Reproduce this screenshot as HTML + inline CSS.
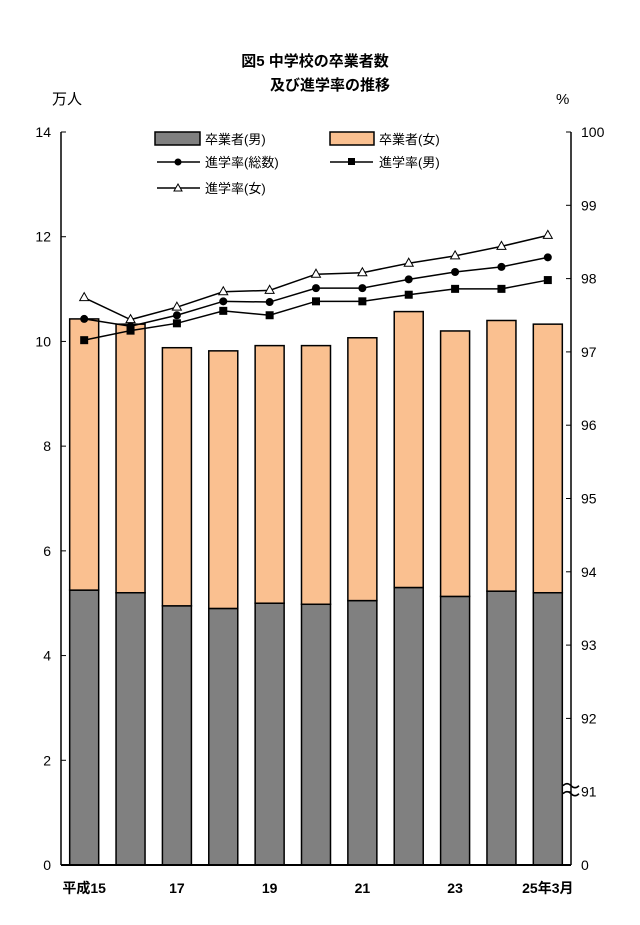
<!DOCTYPE html>
<html><head><meta charset="utf-8"><style>
body{margin:0;background:#fff;}
svg text{font-family:"Liberation Sans","Noto Sans CJK JP",sans-serif;fill:#000;}
</style></head><body>
<svg id="chart" width="640" height="920" viewBox="0 0 640 920">
<text x="315" y="66" font-size="15" font-weight="bold" text-anchor="middle">図5  中学校の卒業者数</text>
<text x="330" y="90" font-size="15" font-weight="bold" text-anchor="middle">及び進学率の推移</text>
<text x="52" y="104" font-size="15">万人</text>
<text x="556" y="104" font-size="15">%</text>
<g id="grid"></g><g id="bars"></g><g id="lines"></g><g id="axes"></g>
<g>
<rect x="155" y="132" width="45" height="13" fill="#808080" stroke="#000" stroke-width="1.5"/>
<text x="205" y="144" font-size="13">卒業者(男)</text>
<rect x="330" y="132" width="44" height="13" fill="#fac090" stroke="#000" stroke-width="1.5"/>
<text x="379" y="144" font-size="13">卒業者(女)</text>
<line x1="157" y1="162" x2="200" y2="162" stroke="#000" stroke-width="1.5"/><circle cx="178" cy="162" r="3.5" fill="#000"/>
<text x="205" y="167" font-size="13">進学率(総数)</text>
<line x1="330" y1="162" x2="373" y2="162" stroke="#000" stroke-width="1.5"/><rect x="348" y="158" width="7" height="7" fill="#000"/>
<text x="379" y="167" font-size="13">進学率(男)</text>
<line x1="157" y1="188" x2="200" y2="188" stroke="#000" stroke-width="1.5"/><path d="M178,184 L182,191 L174,191 Z" fill="#fff" stroke="#000"/>
<text x="205" y="193" font-size="13">進学率(女)</text>
</g>
</svg>
<script>
const categories=["平成15","16","17","18","19","20","21","22","23","24","25年3月"];
const maleGrads=[5.25,5.2,4.95,4.9,5.0,4.98,5.05,5.3,5.13,5.23,5.2];
const femaleGrads=[5.18,5.13,4.93,4.92,4.92,4.94,5.02,5.27,5.07,5.17,5.13];
const rateTotal=[97.45,97.35,97.50,97.69,97.68,97.87,97.87,97.99,98.09,98.16,98.29];
const rateMale=[97.16,97.29,97.39,97.56,97.50,97.69,97.69,97.78,97.86,97.86,97.98];
const rateFemale=[97.74,97.44,97.61,97.82,97.84,98.06,98.08,98.21,98.31,98.44,98.59];
const leftTicks=[0,2,4,6,8,10,12,14];
const rightTicks=[91,92,93,94,95,96,97,98,99,100];
const xLabels=["平成15","17","19","21","23","25年3月"];

const NS="http://www.w3.org/2000/svg";
const X0=61,X1=571,Y0=865,Ytop=132;
const band=(X1-X0)/categories.length;
const xC=i=>X0+band*(i+0.5);
const yL=v=>Y0-(v/14)*(Y0-Ytop);
const yR=v=>Ytop+(100-v)*73.3;
function mk(t,a,p){const e=document.createElementNS(NS,t);for(const k in a)e.setAttribute(k,a[k]);p.appendChild(e);return e;}
const gb=document.getElementById('bars'),gl=document.getElementById('lines'),ga=document.getElementById('axes');
categories.forEach((c,i)=>{
 const m=maleGrads[i],f=femaleGrads[i];
 let r=mk('rect',{x:xC(i)-14.5,y:yL(m),width:29,height:yL(0)-yL(m),fill:'#808080',stroke:'#000','stroke-width':1.5},gb);
 
 
 let r2=mk('rect',{x:xC(i)-14.5,y:yL(m+f),width:29,height:yL(m)-yL(m+f),fill:'#fac090',stroke:'#000','stroke-width':1.5},gb);
 
 
});
function line(arr,name,marker){
 const p=mk('polyline',{points:arr.map((v,i)=>xC(i)+','+yR(v)).join(' '),fill:'none',stroke:'#000','stroke-width':1.5},gl);
 
 
 arr.forEach((v,i)=>{
  const x=xC(i),y=yR(v);let e;
  if(marker==='c')e=mk('circle',{cx:x,cy:y,r:4,fill:'#000'},gl);
  else if(marker==='s')e=mk('rect',{x:x-4,y:y-4,width:8,height:8,fill:'#000'},gl);
  else e=mk('path',{d:`M${x},${y-5} L${x+4.5},${y+3} L${x-4.5},${y+3} Z`,fill:'#fff',stroke:'#000'},gl);
  
  
 });
}
line(rateFemale,'rate-female','t');line(rateTotal,'rate-total','c');line(rateMale,'rate-male','s');
mk('line',{x1:X0,y1:Ytop,x2:X0,y2:Y0,stroke:'#000','stroke-width':1.5},ga);
mk('line',{x1:X1,y1:Ytop,x2:X1,y2:Y0,stroke:'#000','stroke-width':1.5},ga);
mk('line',{x1:X0,y1:Y0,x2:X1,y2:Y0,stroke:'#000','stroke-width':2},ga);
leftTicks.forEach(v=>{
 mk('line',{x1:X0,y1:yL(v),x2:X0+5,y2:yL(v),stroke:'#000'},ga);
 const t=mk('text',{x:X0-10,y:yL(v)+5,'font-size':14,'text-anchor':'end'},ga);t.textContent=v;
 
 
});
rightTicks.forEach(v=>{
 mk('line',{x1:X1-5,y1:yR(v),x2:X1,y2:yR(v),stroke:'#000'},ga);
 const t=mk('text',{x:X1+10,y:yR(v)+5,'font-size':14},ga);t.textContent=v;
 
 
});
const z=mk('text',{x:X1+10,y:Y0+5,'font-size':14},ga);z.textContent='0';


mk('path',{d:`M${X1-8},${yR(91)-6} q4,-4 8,0 t8,0 M${X1-8},${yR(91)+2} q4,-4 8,0 t8,0`,fill:'none',stroke:'#000','stroke-width':1.5},ga);
xLabels.forEach((l,k)=>{
 const i=categories.indexOf(l);
 const t=mk('text',{x:xC(i),y:Y0+28,'font-size':14,'font-weight':'bold','text-anchor':'middle'},ga);t.textContent=l;
 
 
});
</script>
</body></html>
